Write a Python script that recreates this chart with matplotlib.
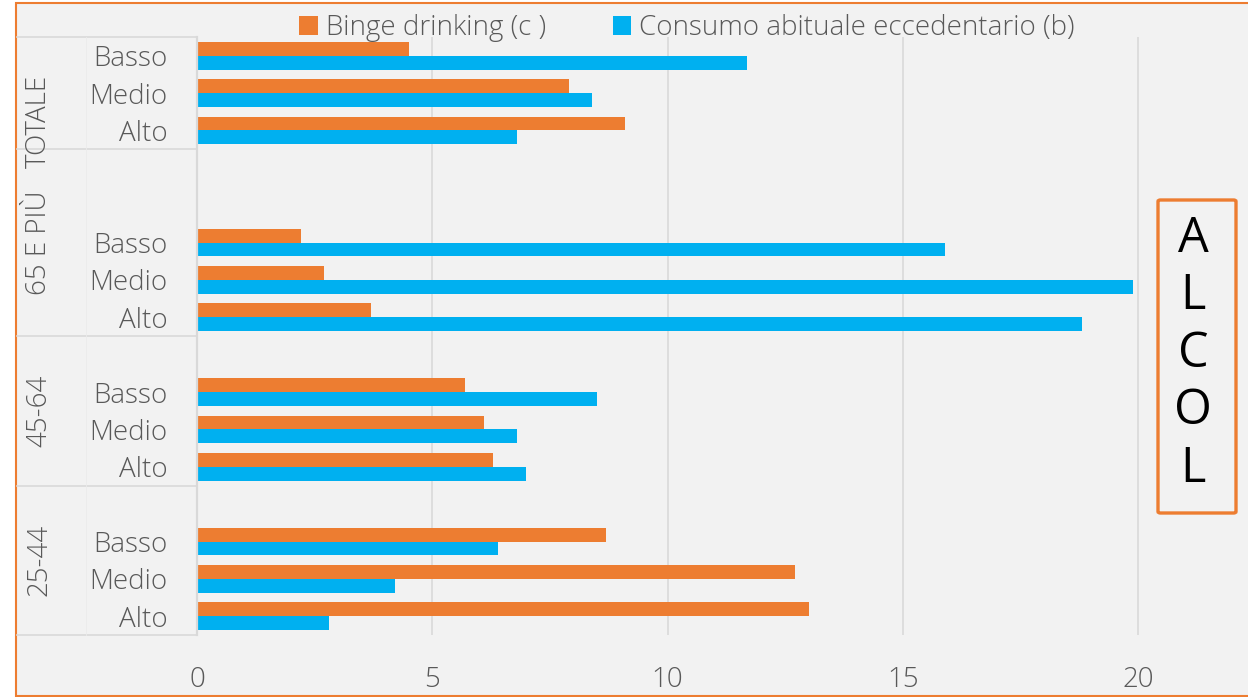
import matplotlib as mpl
import matplotlib.pyplot as plt
from matplotlib.patches import Rectangle, FancyBboxPatch

mpl.rcParams['font.family'] = ['Open Sans', 'DejaVu Sans']

W, H = 1248, 697

# Dati: valori percentuali per fascia d'eta' e livello
gruppi = ['TOTALE', '65 E PIÙ', '45-64', '25-44']
livelli = ['Basso', 'Medio', 'Alto']
binge = [
    [4.5, 7.9, 9.1],     # TOTALE
    [2.2, 2.7, 3.7],     # 65 E PIU
    [5.7, 6.1, 6.3],     # 45-64
    [8.7, 12.7, 13.0],   # 25-44
]
consumo = [
    [11.7, 8.4, 6.8],
    [15.9, 19.9, 18.8],
    [8.5, 6.8, 7.0],
    [6.4, 4.2, 2.8],
]
xticks = [0, 5, 10, 15, 20]

ORANGE = '#ED7D31'
BLUE = '#00B0F0'
GREY_TXT = '#595959'
GRID = '#D9D9D9'
BG = '#F2F2F2'

# posizione (slot) del primo livello di ogni gruppo, dall'alto in basso
base = [15, 10, 6, 2]
confini = [15.5, 12.5, 7.5, 3.5, -0.5]
y_gruppo = [13.25, 10.0, 5.5, 1.5]

fig = plt.figure(figsize=(W / 100, H / 100), dpi=100)
fig.patch.set_facecolor('white')
fig.patches.append(Rectangle((16 / W, 1 - 696 / H), 1.2, 693 / H,
                             transform=fig.transFigure, facecolor=BG,
                             edgecolor=ORANGE, lw=1.5, zorder=-10))

ax = fig.add_axes([197 / W, 1 - 635 / H, (W - 197) / W, (635 - 37) / H])
ax.set_facecolor('none')

h = 0.37
pos, labels = [], []
for g in range(len(gruppi)):
    for i, liv in enumerate(livelli):
        y = base[g] - i
        pos.append(y)
        labels.append(liv)
        ax.barh(y + h / 2, binge[g][i], height=h, color=ORANGE, zorder=3,
                label='Binge drinking (c )' if (g, i) == (0, 0) else None)
        ax.barh(y - h / 2, consumo[g][i], height=h, color=BLUE, zorder=3,
                label='Consumo abituale eccedentario (b)' if (g, i) == (0, 0) else None)

ax.set_xlim(0, (W - 197) / 47.05)
ax.set_ylim(-0.5, 15.5)
ax.set_xticks(xticks)
ax.set_yticks(pos)
ax.set_yticklabels(labels, fontsize=20, color=GREY_TXT, fontweight='light')
ax.tick_params(axis='y', length=0, pad=21)
ax.tick_params(axis='x', length=0, pad=22, labelsize=20, labelcolor=GREY_TXT)
for lab in ax.get_xticklabels():
    lab.set_fontweight('light')
ax.grid(axis='x', color=GRID, lw=1.2, zorder=0)
for s in ['top', 'right', 'bottom']:
    ax.spines[s].set_visible(False)
ax.spines['left'].set_color(GRID)
ax.spines['left'].set_linewidth(1.6)
ax.spines['left'].set_zorder(4)

# tabella delle categorie a sinistra
tr = ax.get_yaxis_transform()
x_left = (17 - 197) / (W - 197)
for c in confini:
    ax.plot([x_left, 0], [c, c], transform=tr, color=GRID, lw=1.2, clip_on=False)
ax.plot([(86 - 197) / (W - 197)] * 2, [-0.5, 15.5], transform=tr,
        color='#EBEBEB', lw=0.6, clip_on=False)
for g, nome in enumerate(gruppi):
    ax.text((39 - 197) / (W - 197), y_gruppo[g], nome, transform=tr,
            rotation=90, ha='center', va='center', fontsize=20,
            color=GREY_TXT, fontweight='light')

fig.legend(loc='center', bbox_to_anchor=(687 / W, 1 - 28 / H), ncol=2,
           frameon=False, handlelength=0.65, handleheight=0.65,
           handletextpad=0.3, columnspacing=2.4, labelcolor=GREY_TXT,
           prop={'weight': 'light', 'size': 20})

# riquadro ALCOL
fig.patches.append(FancyBboxPatch((1158 / W, 1 - 513 / H), 78 / W, 313 / H,
                                  boxstyle='round,pad=0,rounding_size=0.002',
                                  transform=fig.transFigure, facecolor='none',
                                  edgecolor=ORANGE, lw=2.4, zorder=5))
for k, ch in enumerate('ALCOL'):
    fig.text(1193 / W, 1 - (239 + 57.5 * k) / H, ch, ha='center', va='center',
             fontsize=35, color='black')

fig.savefig('out.png', dpi=100)
